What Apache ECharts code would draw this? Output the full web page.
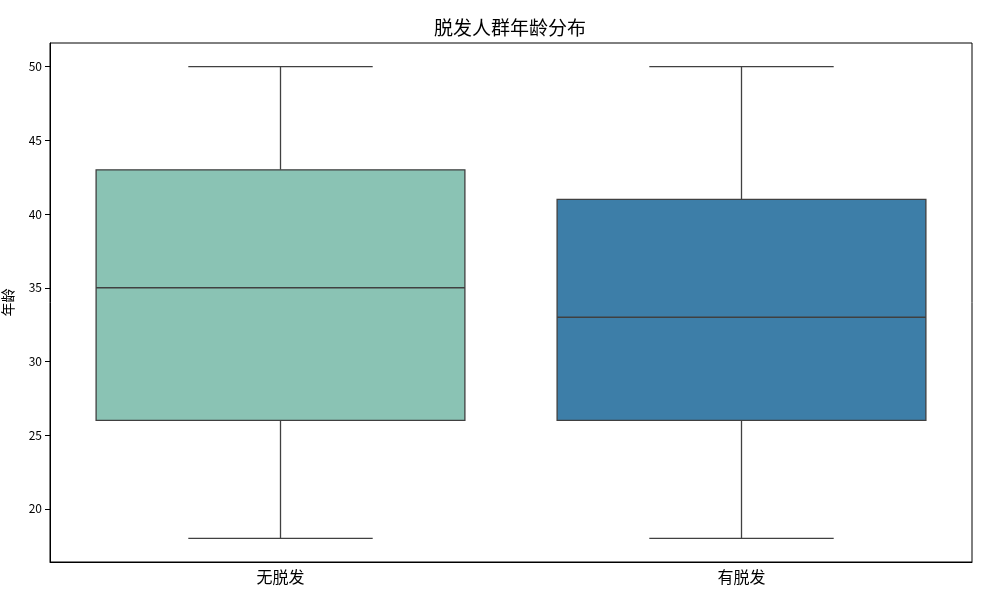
<!DOCTYPE html>
<html><head><meta charset="utf-8">
<script src="https://cdn.jsdelivr.net/npm/echarts@6/dist/echarts.min.js"></script>
<style>html,body{margin:0;padding:0;background:#fff}#c{width:1003px;height:594px}</style>
</head><body><div id="c"></div>
<script>
var categories = ['无脱发', '有脱发'];
var mins = [18, 18];
var q1s = [26, 26];
var medians = [35, 33];
var q3s = [43, 41];
var maxs = [50, 50];
var colors = ['#8ac3b4', '#3d7ea8'];
var yTicks = [20, 25, 30, 35, 40, 45, 50];

var FONT = '"Noto Sans CJK SC", "DejaVu Sans", sans-serif';
var LINE = '#404040';
var data = categories.map(function (c, i) { return [i, mins[i], q1s[i], medians[i], q3s[i], maxs[i]]; });

var chart = echarts.init(document.getElementById('c'));
chart.setOption({
  animation: false,
  title: { text: '脱发人群年龄分布', left: 505, textAlign: 'center', top: 13, textStyle: { fontFamily: FONT, fontSize: 19, fontWeight: 'normal', color: '#000' } },
  grid: { left: 50, right: 31, top: 43, bottom: 32, show: true, borderColor: '#000', borderWidth: 1, containLabel: false, outerBoundsMode: 'none' },
  xAxis: {
    type: 'category', data: categories, boundaryGap: true,
    axisLine: { lineStyle: { color: '#000' } },
    axisTick: { alignWithLabel: true, length: 5, lineStyle: { color: '#000' } },
    axisLabel: { fontFamily: FONT, fontSize: 16, color: '#000', margin: 7 },
    splitLine: { show: false }
  },
  yAxis: {
    type: 'value', min: 16.4, max: 51.6, interval: 5,
    name: '年龄', nameLocation: 'middle', nameGap: 35, nameRotate: 90,
    nameTextStyle: { fontFamily: FONT, fontSize: 14, color: '#000' },
    axisLine: { show: true, lineStyle: { color: '#000' } },
    axisTick: { show: true, length: 5, lineStyle: { color: '#000' }, customValues: yTicks },
    axisLabel: { fontFamily: FONT, fontSize: 12, color: '#000', margin: 8, customValues: yTicks },
    splitLine: { show: false }
  },
  series: [{
    type: 'custom',
    data: data,
    encode: { x: 0, y: [1, 2, 3, 4, 5] },
    renderItem: function (params, api) {
      var i = api.value(0);
      var band = api.size([1, 0])[0];
      var bw = band * 0.8;
      var cw = bw / 2;
      var pMin = api.coord([i, api.value(1)]);
      var pQ1 = api.coord([i, api.value(2)]);
      var pMed = api.coord([i, api.value(3)]);
      var pQ3 = api.coord([i, api.value(4)]);
      var pMax = api.coord([i, api.value(5)]);
      var x = pMin[0];
      var ls = { stroke: LINE, lineWidth: 1.3 };
      return {
        type: 'group',
        children: [
          { type: 'line', shape: { x1: x, y1: pMin[1], x2: x, y2: pQ1[1] }, style: ls },
          { type: 'line', shape: { x1: x, y1: pQ3[1], x2: x, y2: pMax[1] }, style: ls },
          { type: 'line', shape: { x1: x - cw / 2, y1: pMin[1], x2: x + cw / 2, y2: pMin[1] }, style: ls },
          { type: 'line', shape: { x1: x - cw / 2, y1: pMax[1], x2: x + cw / 2, y2: pMax[1] }, style: ls },
          { type: 'rect', shape: { x: x - bw / 2, y: pQ3[1], width: bw, height: pQ1[1] - pQ3[1] }, style: { fill: colors[i], stroke: LINE, lineWidth: 1.3 } },
          { type: 'line', shape: { x1: x - bw / 2, y1: pMed[1], x2: x + bw / 2, y2: pMed[1] }, style: ls }
        ]
      };
    }
  }]
});
</script></body></html>
